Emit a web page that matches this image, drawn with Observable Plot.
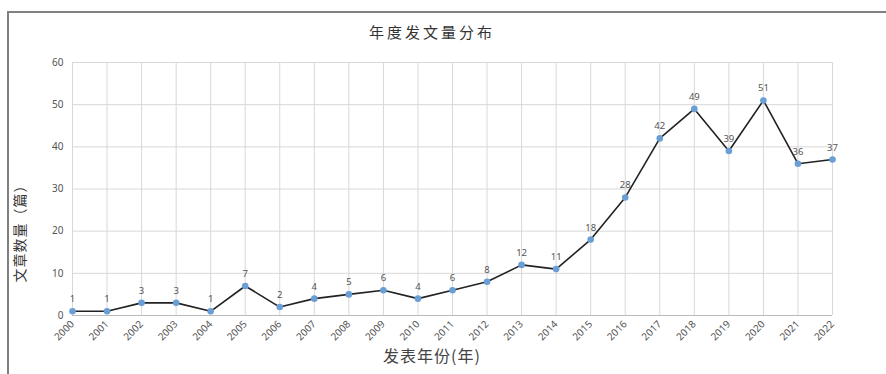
<!DOCTYPE html>
<html>
<head>
<meta charset="utf-8">
<script src="https://cdn.jsdelivr.net/npm/d3@7"></script>
<script src="https://cdn.jsdelivr.net/npm/@observablehq/plot@0.6"></script>
<style>
  html, body { margin: 0; padding: 0; background: #fff; }
  #wrap { position: relative; width: 886px; height: 374px; overflow: hidden; font-family: "Noto Sans CJK SC", "Noto Sans", sans-serif; }
  #frame { position: absolute; left: 7px; top: 11px; width: 900px; height: 400px; border-top: 2px solid #808080; border-left: 2px solid #808080; }
  #title { position: absolute; left: 432px; top: 21px; transform: translateX(-50%); font-size: 15px; letter-spacing: 3px; color: #333; white-space: nowrap; }
  #ylab { position: absolute; left: 19px; top: 230px; transform: translate(-50%, -50%) rotate(-90deg); font-size: 14px; letter-spacing: 1px; color: #333; white-space: nowrap; }
  #xlab { position: absolute; left: 432px; top: 343px; transform: translateX(-50%); font-size: 16px; letter-spacing: 1px; color: #444; white-space: nowrap; }
  #chart { position: absolute; left: 0; top: 0; }
</style>
</head>
<body>
<div id="wrap">
  <div id="frame"></div>
  <div id="chart"></div>
  <div id="title">年度发文量分布</div>
  <div id="ylab">文章数量（篇）</div>
  <div id="xlab">发表年份(年)</div>
</div>
<script>
const years = [2000,2001,2002,2003,2004,2005,2006,2007,2008,2009,2010,2011,2012,2013,2014,2015,2016,2017,2018,2019,2020,2021,2022];
const counts = [1,1,3,3,1,7,2,4,5,6,4,6,8,12,11,18,28,42,49,39,51,36,37];
const yTicks = [0,10,20,30,40,50,60];
const data = years.map((y, i) => ({year: y, count: counts[i]}));

const chart = Plot.plot({
  width: 886,
  height: 374,
  marginLeft: 72,
  marginRight: 54,
  marginTop: 62,
  marginBottom: 59,
  style: { fontFamily: "'Noto Sans', 'Noto Sans CJK SC', sans-serif", fontSize: "10px", color: "#555", background: "transparent" },
  x: { domain: [2000, 2022], ticks: years, tickFormat: d => String(d), tickRotate: -45, tickSize: 0, tickPadding: 7, label: null },
  y: { domain: [0, 60], ticks: yTicks, tickSize: 0, tickPadding: 9, label: null },
  marks: [
    Plot.gridX(years, { stroke: "#d8d8d8", strokeOpacity: 1 }),
    Plot.gridY(yTicks, { stroke: "#d8d8d8", strokeOpacity: 1 }),
    Plot.ruleY([0], { stroke: "#bbb" }),
    Plot.line(data, { x: "year", y: "count", stroke: "#222", strokeWidth: 1.6 }),
    Plot.dot(data, { x: "year", y: "count", r: 3.3, fill: "#6a9fd6", stroke: "none" }),
    Plot.text(data, { x: "year", y: "count", text: d => String(d.count), dy: -12, fill: "#555", fontSize: 9.5 })
  ]
});
document.getElementById("chart").appendChild(chart);
</script>
</body>
</html>
